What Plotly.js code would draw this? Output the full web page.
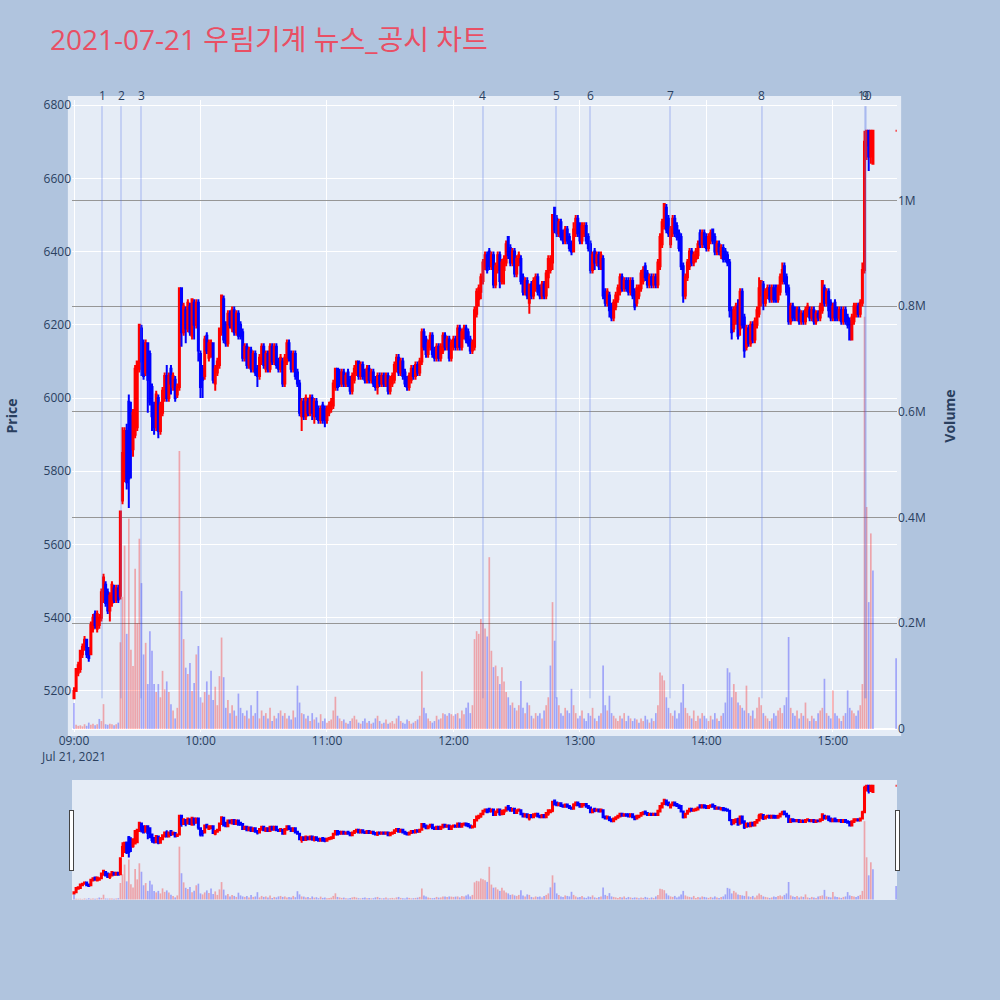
<!DOCTYPE html>
<html><head><meta charset="utf-8">
<script src="https://cdn.plot.ly/plotly-3.0.1.min.js"></script>
<style>body{margin:0;background:#B0C4DE}</style>
</head><body><div id="chart" style="width:1000px;height:1000px"></div>
<div id="err" style="position:absolute;left:10px;top:960px;color:black;font-size:14px"></div>
<script>
// ---- data (KRW, minute candles 09:00-15:19 plus 15:30 closing auction) ----
const sessionStartHour = 9;
const closingAuction = '2021-07-21 15:30:00';
const opens = [
5180,5200,5250,5260,5300,5320,5340,5310,5300,5370,
5410,5370,5380,5400,5450,5490,5470,5420,5440,5480,
5450,5480,5460,5720,5780,5910,5990,5950,5860,5900,
5920,6080,6190,6150,6070,6150,6120,6030,5980,5920,
6000,5910,5960,6000,6060,6000,6080,6030,6050,6010,
6030,6300,6180,6240,6190,6250,6170,6260,6200,6260,
6120,6080,6060,6170,6110,6120,6150,6040,6070,6090,
6180,6270,6200,6150,6230,6190,6240,6180,6230,6200,
6180,6110,6140,6090,6130,6080,6120,6080,6060,6100,
6140,6080,6120,6080,6140,6100,6140,6100,6080,6100,
6040,6100,6150,6120,6080,6120,6070,6040,5950,5990,
5950,5990,5960,6000,5950,5990,5970,5940,5980,5970,
5940,5960,5970,5980,6030,6080,6070,6040,6070,6040,
6070,6050,6020,6050,6070,6100,6060,6090,6070,6050,
6080,6050,6070,6050,6030,6060,6040,6060,6040,6060,
6020,6040,6050,6080,6110,6070,6100,6070,6050,6030,
6050,6080,6060,6090,6070,6100,6180,6160,6120,6140,
6170,6130,6110,6140,6110,6130,6170,6140,6160,6110,
6140,6160,6140,6190,6140,6170,6190,6180,6160,6130,
6140,6230,6270,6290,6320,6360,6390,6400,6360,6390,
6310,6350,6390,6320,6350,6370,6440,6410,6370,6400,
6340,6370,6380,6330,6290,6320,6260,6310,6280,6300,
6330,6300,6280,6310,6280,6330,6350,6370,6520,6490,
6450,6480,6450,6430,6460,6440,6420,6400,6450,6490,
6470,6430,6450,6470,6440,6420,6350,6400,6370,6390,
6360,6380,6290,6260,6280,6250,6220,6250,6270,6290,
6330,6300,6320,6320,6290,6320,6290,6260,6280,6300,
6320,6360,6340,6310,6330,6310,6330,6310,6360,6420,
6470,6520,6490,6420,6450,6490,6470,6450,6440,6360,
6280,6330,6360,6400,6370,6380,6390,6450,6420,6450,
6440,6410,6430,6460,6440,6400,6420,6390,6410,6400,
6390,6370,6240,6190,6210,6250,6190,6290,6220,6140,
6190,6150,6200,6160,6200,6230,6280,6310,6260,6280,
6300,6270,6300,6290,6270,6290,6320,6360,6330,6300,
6210,6250,6240,6220,6240,6210,6230,6210,6230,6240,
6220,6240,6210,6230,6220,6240,6300,6260,6290,6260,
6220,6260,6240,6220,6240,6210,6240,6220,6210,6160,
6210,6230,6250,6230,6260,6350,6690,6730,6660,6640,
6730];
const highs = [
5210,5260,5280,5310,5330,5350,5340,5320,5390,5410,
5420,5420,5410,5480,5520,5500,5480,5470,5500,5490,
5490,5490,5690,5920,5920,5930,6010,5990,5970,6090,
6100,6200,6200,6160,6160,6150,6130,6040,5990,6020,
6010,5990,6030,6070,6090,6070,6090,6070,6060,6040,
6300,6300,6260,6250,6270,6260,6270,6270,6270,6270,
6130,6090,6170,6180,6160,6160,6150,6090,6110,6190,
6280,6280,6210,6240,6240,6250,6250,6240,6240,6210,
6190,6150,6150,6140,6140,6130,6130,6090,6120,6150,
6150,6130,6130,6150,6150,6150,6150,6110,6120,6110,
6120,6160,6160,6130,6130,6130,6080,6050,6000,6000,
6010,6000,6010,6010,6000,6000,5980,5980,5990,5980,
5980,5990,6000,6050,6080,6080,6080,6080,6080,6070,
6080,6060,6070,6090,6100,6100,6100,6100,6080,6090,
6090,6080,6080,6060,6070,6070,6070,6070,6070,6070,
6060,6070,6100,6120,6120,6110,6110,6080,6060,6070,
6090,6090,6100,6100,6110,6190,6190,6170,6160,6180,
6180,6140,6150,6150,6150,6180,6180,6170,6170,6160,
6170,6170,6200,6200,6190,6200,6200,6190,6170,6160,
6250,6300,6310,6340,6380,6400,6400,6410,6400,6400,
6370,6400,6400,6380,6390,6430,6440,6420,6410,6410,
6390,6400,6390,6340,6330,6330,6310,6320,6330,6340,
6340,6310,6320,6320,6350,6390,6390,6500,6520,6500,
6490,6490,6460,6470,6470,6450,6430,6480,6500,6500,
6480,6480,6480,6480,6450,6430,6400,6410,6400,6400,
6400,6390,6300,6300,6290,6260,6270,6290,6310,6340,
6340,6330,6330,6330,6330,6330,6300,6310,6310,6350,
6360,6370,6350,6340,6340,6340,6340,6380,6450,6490,
6530,6530,6500,6470,6500,6500,6480,6460,6450,6370,
6340,6380,6410,6410,6400,6410,6430,6460,6460,6460,
6450,6450,6460,6460,6450,6430,6430,6420,6420,6410,
6400,6380,6250,6250,6260,6270,6300,6300,6230,6200,
6200,6210,6210,6220,6250,6330,6320,6320,6300,6310,
6310,6310,6310,6310,6310,6340,6370,6370,6340,6310,
6260,6260,6250,6250,6250,6240,6240,6250,6260,6250,
6250,6250,6240,6240,6260,6320,6310,6300,6300,6270,
6260,6270,6250,6250,6250,6250,6250,6230,6220,6230,
6260,6260,6260,6270,6370,6730,6730,6730,6730,6730,
6730];
const lows = [
5180,5200,5240,5250,5290,5310,5290,5280,5300,5360,
5370,5360,5370,5390,5440,5430,5410,5390,5430,5440,
5440,5440,5450,5710,5770,5750,5700,5780,5840,5890,
5910,6070,6060,6050,6060,5960,5980,5910,5900,5910,
5890,5900,5950,5990,5990,5990,6010,6020,5990,6000,
6020,6140,6170,6150,6180,6170,6160,6160,6190,6100,
6000,6000,6050,6120,6100,6110,6040,6020,6060,6080,
6170,6150,6140,6140,6190,6180,6170,6170,6160,6160,
6100,6100,6080,6080,6070,6070,6060,6030,6050,6090,
6080,6070,6070,6070,6090,6090,6080,6070,6070,6030,
6030,6090,6100,6070,6070,6050,6030,5950,5910,5940,
5940,5950,5950,5940,5930,5940,5930,5930,5930,5920,
5930,5950,5960,5970,6020,6020,6030,6030,6030,6030,
6030,6010,6010,6040,6060,6050,6050,6050,6040,6040,
6040,6040,6030,6020,6010,6030,6030,6030,6030,6010,
6010,6030,6040,6070,6060,6060,6050,6030,6020,6020,
6040,6050,6050,6060,6060,6090,6130,6110,6110,6130,
6110,6100,6100,6100,6100,6120,6130,6130,6100,6100,
6130,6130,6130,6130,6130,6160,6150,6140,6120,6120,
6130,6220,6250,6270,6310,6350,6340,6350,6350,6300,
6300,6340,6300,6310,6310,6360,6380,6360,6360,6330,
6330,6360,6310,6280,6280,6270,6230,6270,6270,6290,
6280,6270,6270,6270,6270,6300,6340,6350,6450,6440,
6440,6430,6420,6420,6420,6400,6390,6400,6440,6440,
6420,6420,6440,6420,6400,6340,6340,6350,6360,6350,
6350,6270,6250,6250,6220,6210,6210,6240,6260,6280,
6290,6290,6290,6280,6280,6270,6240,6250,6270,6290,
6310,6320,6300,6300,6300,6300,6300,6300,6350,6410,
6460,6450,6440,6410,6440,6440,6430,6400,6350,6260,
6270,6320,6350,6360,6360,6370,6380,6410,6410,6410,
6400,6400,6420,6420,6390,6390,6390,6380,6370,6370,
6360,6220,6160,6180,6200,6160,6170,6190,6110,6130,
6140,6140,6150,6150,6190,6220,6250,6240,6250,6270,
6260,6260,6260,6260,6260,6280,6310,6310,6280,6200,
6200,6210,6210,6210,6200,6200,6200,6200,6220,6210,
6210,6200,6200,6210,6210,6230,6250,6250,6220,6210,
6210,6210,6210,6210,6200,6200,6200,6190,6160,6160,
6200,6220,6220,6220,6250,6340,6650,6620,6640,6640,
6730];
const closes = [
5200,5260,5270,5310,5320,5340,5300,5290,5380,5400,
5380,5410,5400,5470,5510,5440,5420,5460,5490,5450,
5480,5450,5690,5850,5910,5770,5780,5860,5960,6080,
6100,6200,6100,6060,6150,6050,5990,5950,5920,6010,
5910,5980,6020,6060,6000,6060,6040,6060,6000,6030,
6300,6180,6250,6190,6260,6180,6270,6200,6260,6130,
6030,6050,6160,6130,6150,6150,6050,6080,6100,6190,
6280,6160,6150,6230,6200,6240,6180,6230,6170,6170,
6110,6140,6090,6130,6080,6120,6070,6060,6110,6140,
6090,6120,6080,6140,6100,6140,6090,6080,6110,6040,
6110,6150,6110,6080,6120,6060,6040,5960,5990,5950,
6000,5960,6000,5960,5990,5950,5940,5970,5940,5940,
5970,5980,5990,6040,6080,6030,6040,6070,6040,6060,
6040,6020,6060,6080,6100,6060,6090,6060,6050,6080,
6050,6070,6040,6030,6060,6040,6060,6040,6060,6020,
6050,6060,6090,6110,6070,6100,6060,6040,6030,6060,
6080,6060,6090,6070,6100,6180,6140,6120,6150,6170,
6120,6110,6140,6110,6140,6170,6140,6160,6110,6150,
6160,6140,6190,6140,6180,6190,6160,6150,6130,6150,
6240,6290,6300,6330,6370,6390,6350,6360,6390,6310,
6360,6390,6320,6370,6380,6420,6390,6370,6400,6340,
6380,6390,6320,6290,6320,6280,6310,6280,6320,6330,
6290,6280,6310,6280,6340,6380,6380,6500,6460,6450,
6480,6440,6430,6460,6430,6410,6400,6460,6490,6450,
6430,6470,6470,6430,6410,6350,6390,6370,6390,6360,
6390,6280,6260,6290,6240,6220,6260,6280,6300,6330,
6300,6320,6300,6290,6320,6280,6250,6300,6300,6340,
6350,6330,6310,6330,6310,6330,6310,6370,6440,6480,
6530,6460,6450,6460,6490,6450,6440,6410,6360,6280,
6330,6370,6400,6370,6390,6400,6420,6420,6450,6420,
6410,6440,6450,6430,6400,6420,6400,6410,6380,6380,
6370,6240,6180,6240,6250,6170,6290,6200,6130,6190,
6150,6200,6160,6210,6240,6300,6320,6260,6290,6300,
6270,6300,6270,6270,6300,6330,6350,6320,6290,6210,
6250,6220,6220,6240,6210,6230,6210,6240,6250,6220,
6240,6210,6230,6220,6250,6320,6260,6290,6240,6220,
6250,6220,6220,6240,6210,6240,6210,6200,6160,6220,
6250,6250,6230,6260,6350,6700,6730,6660,6730,6730,
6730];
// traded volume per minute, thousands of shares
const volumesK = [
49,8,6,7,5,9,6,12,8,10,
7,9,19,15,47,9,8,10,9,7,
9,12,164,250,347,180,398,150,119,303,
200,360,276,141,163,85,185,148,85,70,
85,60,110,75,90,70,47,35,20,40,
526,261,170,116,104,125,72,87,141,157,
60,50,70,90,65,110,55,80,45,100,
173,98,40,55,30,45,35,25,67,40,
30,25,35,20,45,25,30,72,20,35,
25,30,20,40,15,25,20,30,35,25,
30,20,25,18,35,22,82,50,30,28,
20,25,15,30,18,22,12,28,15,20,
12,15,18,35,61,25,20,15,18,12,
10,15,20,25,18,12,10,15,20,12,
15,10,12,20,25,15,10,12,18,10,
12,15,10,20,25,15,12,10,18,15,
10,12,15,18,25,109,40,30,20,15,
12,15,25,18,20,30,28,25,30,28,
25,28,30,20,35,28,40,50,30,45,
170,185,180,208,200,190,175,325,148,117,
120,100,85,117,90,70,60,45,50,40,
35,45,91,40,30,50,45,25,20,30,
25,30,20,35,45,60,120,240,167,60,
45,30,25,40,35,30,76,45,30,20,
25,35,20,15,30,25,40,20,15,25,
30,120,45,35,63,30,25,20,15,25,
20,30,15,25,20,15,20,18,12,20,
15,25,18,12,20,15,30,45,107,101,
92,60,40,30,25,35,20,30,50,85,
40,30,25,20,35,15,25,20,30,25,
20,15,25,18,30,20,15,25,30,50,
115,107,60,85,70,50,45,40,35,82,
30,25,35,20,40,60,45,30,25,20,
15,20,30,25,35,40,30,45,60,174,
40,30,25,35,20,30,25,50,20,15,
25,20,15,30,35,40,95,30,25,20,
73,30,25,20,15,25,30,73,40,35,
30,25,35,45,85,780,420,240,370,300,
134];
const newsTimes = ['2021-07-21 09:13:17','2021-07-21 09:22:18','2021-07-21 09:31:47',
  '2021-07-21 12:14:01','2021-07-21 12:48:39','2021-07-21 13:04:47','2021-07-21 13:42:44',
  '2021-07-21 14:26:22','2021-07-21 15:15:42','2021-07-21 15:15:13'];
const newsLabels = ['1','2','3','4','5','6','7','8','9','10'];
const chartTitle = '2021-07-21 우림기계 뉴스_공시 차트';

// ---- build ----
function pad(n){return (n<10?'0':'')+n;}
const times = [];
for (let i = 0; i < opens.length - 1; i++) {
  const h = sessionStartHour + Math.floor(i/60), m = i % 60;
  times.push('2021-07-21 ' + pad(h) + ':' + pad(m) + ':00');
}
times.push(closingAuction);
const lens = [opens.length, highs.length, lows.length, closes.length, volumesK.length];
if (new Set(lens).size !== 1) document.getElementById('err').textContent = 'LEN MISMATCH ' + lens.join(',');

const volumes = volumesK.map(v => v * 1000);
const volColors = closes.map((c, i) => (i > 0 && c > closes[i-1]) ? 'red' : 'blue');
const lineTop = Math.max(...highs) * 1.01;
const lineBottom = Math.min(...lows);

const xRange = ['2021-07-21 08:59:03', '2021-07-21 15:30:25'];

const candle = {
  type: 'candlestick', x: times, open: opens, high: highs, low: lows, close: closes,
  increasing: {line: {color: 'red'}, fillcolor: 'red'},
  decreasing: {line: {color: 'blue'}, fillcolor: 'blue'},
  name: 'Price', xaxis: 'x', yaxis: 'y', hoverinfo: 'skip'
};
const vol = {
  type: 'bar', x: times, y: volumes, marker: {color: volColors}, opacity: 0.3,
  name: 'Volume', xaxis: 'x', yaxis: 'y2', hoverinfo: 'skip'
};

const shapes = [{
  type: 'rect', xref: 'paper', yref: 'paper', x0: -0.005, x1: 1.005, y0: -0.0063, y1: 1.0063,
  fillcolor: '#E5ECF6', line: {width: 0}, layer: 'below'
}];
const annotations = [];
newsTimes.forEach((t, i) => {
  shapes.push({type: 'line', xref: 'x', yref: 'y', x0: t, x1: t, y0: lineBottom, y1: lineTop,
    line: {color: 'rgba(80,110,230,0.45)', width: 1}});
  annotations.push({x: t, xref: 'x', y: lineTop, yref: 'y', yanchor: 'bottom', text: newsLabels[i],
    showarrow: false, font: {size: 12, color: '#2a3f5f'}});
});

const layout = {
  width: 1000, height: 1000,
  paper_bgcolor: '#B0C4DE', plot_bgcolor: '#E5ECF6',
  font: {family: '"Open Sans", verdana, arial, sans-serif', size: 12, color: '#2a3f5f'},
  title: {text: chartTitle, x: 0.05, xanchor: 'left', y: 0.96, yanchor: 'middle',
    font: {size: 28, color: '#E94F64', family: '"Open Sans", "Noto Sans CJK KR", sans-serif'}},
  margin: {l: 72, r: 103, t: 100, b: 100},
  showlegend: false,
  bargap: 0.2,
  xaxis: {type: 'date', range: xRange, gridcolor: 'white', zeroline: false,
    rangeslider: {visible: true, bgcolor: '#E5ECF6', range: xRange}},
  yaxis: {title: {text: '<b>Price</b>', standoff: 22}, automargin: true, range: [5088, 6814],
    gridcolor: 'white', zeroline: false},
  yaxis2: {title: {text: '<b>Volume</b>', standoff: 20}, automargin: true, overlaying: 'y', side: 'right',
    range: [-5700, 1190000], showgrid: true, gridcolor: 'rgb(150,150,150)',
    zeroline: true, zerolinecolor: 'white', zerolinewidth: 2},
  shapes: shapes, annotations: annotations
};
Plotly.newPlot('chart', [candle, vol], layout, {displayModeBar: false, staticPlot: true});
</script></body></html>
